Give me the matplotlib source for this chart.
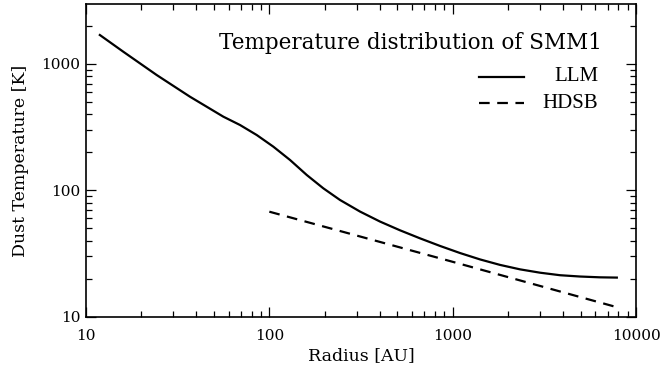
import numpy as np
import matplotlib.pyplot as plt
from matplotlib.ticker import LogLocator, NullFormatter, FuncFormatter

# LLM model: dust temperature vs radius
r_llm = [11.9, 15.97, 24.3, 36.9, 56.1, 69.2, 85.4, 105.2, 129.7, 160, 197, 243,
         312.6, 401.8, 516, 664, 854, 1098, 1411, 1814, 2332, 2999, 3854, 4955,
         6370, 7858]
t_llm = [1696, 1251, 818, 551, 383, 329, 274, 221.6, 173.9, 132.3, 103.8, 83.9,
         67.9, 56.6, 48.3, 41.7, 36.3, 31.9, 28.4, 25.7, 23.7, 22.3, 21.3, 20.8,
         20.5, 20.4]

# HDSB model
r_hdsb = [100, 1000, 7858]
t_hdsb = [67.8, 27.2, 11.9]

plt.rcParams['font.family'] = 'DejaVu Serif'

fig = plt.figure(figsize=(6.63, 3.70), dpi=100)
ax = fig.add_axes([0.1297, 0.144, 0.8296, 0.845])

ax.plot(r_llm, t_llm, color='black', lw=1.6, solid_joinstyle='round')
ax.plot(r_hdsb, t_hdsb, color='black', lw=1.6, ls=(0, (4.8, 3.4)))

ax.set_xscale('log')
ax.set_yscale('log')
ax.set_xlim(10, 10000)
ax.set_ylim(10, 2980)

fmt = FuncFormatter(lambda v, p: '%d' % round(v))
for axis in (ax.xaxis, ax.yaxis):
    axis.set_major_locator(LogLocator(base=10, numticks=10))
    axis.set_minor_locator(LogLocator(base=10, subs=np.arange(2, 10), numticks=20))
    axis.set_major_formatter(fmt)
    axis.set_minor_formatter(NullFormatter())

ax.tick_params(which='both', direction='in', top=True, right=True, width=0.9)
ax.tick_params(which='major', length=7.2, labelsize=11)
ax.tick_params(which='minor', length=4)
ax.tick_params(axis='x', which='major', pad=9)
ax.tick_params(axis='y', which='major', pad=4)
for s in ax.spines.values():
    s.set_linewidth(1.2)

ax.set_xlabel('Radius [AU]', fontsize=12.5, labelpad=3)
ax.set_ylabel('Dust Temperature [K]', fontsize=12.5, labelpad=9)

# title and legend keys inside the frame
ax.text(0.938, 0.875, 'Temperature distribution of SMM1', transform=ax.transAxes,
        ha='right', va='center', fontsize=15.5)
ax.plot([0.7145, 0.796], [0.767, 0.767], transform=ax.transAxes, color='black', lw=1.6)
ax.plot([0.7145, 0.796], [0.683, 0.683], transform=ax.transAxes, color='black', lw=1.6,
        ls=(0, (4.8, 3.4)))
ax.text(0.931, 0.767, 'LLM', transform=ax.transAxes, ha='right', va='center',
        fontsize=15, family='Liberation Serif')
ax.text(0.931, 0.683, 'HDSB', transform=ax.transAxes, ha='right', va='center',
        fontsize=15, family='Liberation Serif')

fig.savefig('out.png', dpi=100)
